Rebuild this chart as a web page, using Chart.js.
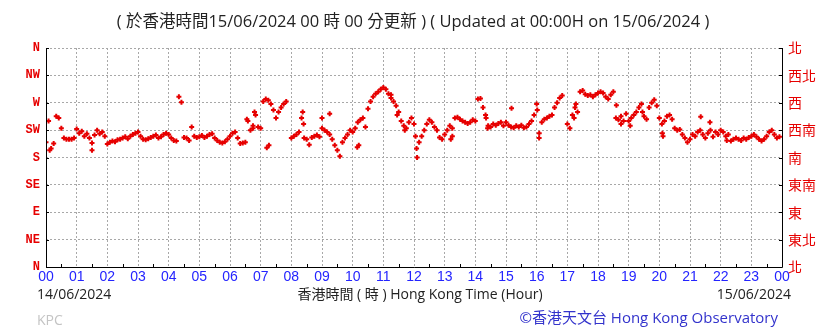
<!DOCTYPE html>
<html>
<head>
<meta charset="utf-8">
<script src="https://cdn.jsdelivr.net/npm/chart.js@4/dist/chart.umd.min.js"></script>
<style>
  body { margin: 0; background: #fff; }
  canvas { display: block; }
</style>
</head>
<body>
<canvas id="windChart" width="838" height="331"></canvas>
<script>
// wind direction (degrees), one reading every 5 minutes, 00:00 -> 23:55
const dirs = [
  205, 240, 195, 203, 248, 245, 228, 212, 210, 210, 210, 212, // 00
  227, 220, 223, 215, 219, 212, 204, 217, 225, 219, 222, 215, // 01
  202, 205, 207, 206, 209, 210, 212, 214, 211, 215, 218, 220, // 02
  222, 215, 210, 209, 211, 213, 215, 217, 212, 214, 218, 220, // 03
  218, 212, 208, 207, 280, 271, 213, 212, 208, 230, 215, 213, // 04
  214, 216, 213, 215, 218, 219, 212, 208, 205, 204, 206, 210, // 05
  215, 220, 222, 212, 203, 204, 205, 240, 225, 228, 250, 230, // 06
  228, 272, 276, 274, 268, 258, 245, 255, 262, 268, 272, null, // 07
  212, 215, 218, 222, 245, 212, 210, 201, 213, 215, 217, 214, // 08
  228, 225, 222, 218, 210, 200, 192, 182, 205, 212, 218, 225, // 09
  222, 228, 238, 242, 245, 230, 260, 272, 280, 285, 288, 292, // 10
  295, 292, 285, 278, 272, 265, 255, 240, 232, 228, 238, 245, // 11
  235, 195, 205, 215, 225, 235, 242, 238, 230, 225, 213, 210, // 12
  218, 225, 232, 228, 245, 246, 243, 240, 238, 236, 238, 242, // 13
  240, 276, 277, 262, 250, 232, 230, 235, 233, 236, 238, 232, // 14
  238, 233, 230, 229, 232, 230, 233, 229, 230, 235, 240, 250, // 15
  268, 220, 238, 243, 245, 248, 250, 262, 270, 278, 282, null, // 16
  235, 228, 250, 262, 255, 288, 290, 284, 282, 283, 280, 283, // 17
  286, 288, 286, 280, 276, 283, 288, 245, 242, 248, 240, 252, // 18
  240, 245, 250, 255, 262, 268, 248, 243, 262, 270, 275, 265, // 19
  245, 235, 240, 248, 250, 243, 228, 225, 226, 218, 212, 205, // 20
  210, 218, 215, 222, 225, 218, 212, 220, 225, 214, 222, 218, // 21
  225, 222, 215, 218, 207, 210, 212, 210, 208, 212, 210, 213, // 22
  215, 218, 214, 210, 207, 210, 215, 222, 225, 218, 212, 214  // 23
];

// scattered readings (hour, degrees)
const extraHours = [0.12, 1.5, 6.55, 6.8, 6.75, 7.2, 7.27, 8.37, 8.4, 9.0, 9.25, 10.15, 10.2,
  11.25, 11.45, 11.7, 12.1, 12.05, 13.2, 13.25, 14.35, 14.4, 15.18, 16.02, 16.08, 17.22, 17.28,
  18.6, 18.75, 19.05, 19.45, 20.1, 20.12, 21.35, 21.65, 22.2];
const extraDirs = [192, 192, 243, 255, 232, 196, 200, 255, 235, 245, 252, 197, 200,
  283, 250, 225, 180, 215, 210, 215, 245, 228, 261, 258, 212, 245, 268,
  266, 235, 232, 255, 220, 215, 247, 238, 208];

const hourLabels = ["00", "01", "02", "03", "04", "05", "06", "07", "08", "09", "10", "11",
  "12", "13", "14", "15", "16", "17", "18", "19", "20", "21", "22", "23", "00"];
const leftLabels = ["N", "NE", "E", "SE", "S", "SW", "W", "NW", "N"];
const rightLabels = ["北", "東北", "東", "東南", "南", "西南", "西", "西北", "北"];

const RED = "#e60000";
const mainPoints = dirs.map((d, i) => ({x: i * 5 / 60, y: d}));
const extraPoints = extraHours.map((h, i) => ({x: h, y: extraDirs[i]}));

const frame = {
  id: "frame",
  afterDraw(chart) {
    const {ctx, chartArea: a} = chart;
    const x = chart.scales.x;
    const y = chart.scales.y;
    ctx.save();
    ctx.strokeStyle = "#000";
    ctx.lineWidth = 1;
    ctx.beginPath();
    ctx.moveTo(a.left + 0.5, a.top);
    ctx.lineTo(a.left + 0.5, a.bottom + 0.5);
    ctx.lineTo(a.right + 0.5, a.bottom + 0.5);
    ctx.lineTo(a.right + 0.5, a.top);
    // half-hour ticks on the time axis
    for (let h = 0.5; h < 24; h += 1) {
      const px = Math.round(x.getPixelForValue(h)) + 0.5;
      ctx.moveTo(px, a.bottom);
      ctx.lineTo(px, a.bottom - 3);
    }
    // small ticks on the direction axes
    for (let d = 0; d <= 360; d += 45) {
      const py = Math.round(y.getPixelForValue(d)) + 0.5;
      ctx.moveTo(a.left, py);
      ctx.lineTo(a.left + 3, py);
      ctx.moveTo(a.right, py);
      ctx.lineTo(a.right - 3, py);
    }
    ctx.stroke();

    ctx.textBaseline = "middle";
    ctx.fillStyle = "#222";
    ctx.font = "16.5px 'Open Sans', 'Noto Sans CJK TC'";
    ctx.textAlign = "center";
    ctx.fillText("( 於香港時間15/06/2024 00 時 00 分更新 ) ( Updated at 00:00H on 15/06/2024 )", 413, 22);

    ctx.font = "14px 'Open Sans', 'Noto Sans CJK TC'";
    ctx.textAlign = "left";
    ctx.fillText("14/06/2024", 37, 295);
    ctx.textAlign = "center";
    ctx.fillText("香港時間 ( 時 ) Hong Kong Time (Hour)", 420, 295);
    ctx.textAlign = "right";
    ctx.fillText("15/06/2024", 791, 295);

    ctx.textAlign = "left";
    ctx.fillStyle = "#c4c4c4";
    ctx.fillText("KPC", 37, 321);
    ctx.fillStyle = "#3333cc";
    ctx.font = "15px 'Open Sans', 'Noto Sans CJK TC'";
    ctx.textAlign = "right";
    ctx.fillText("©香港天文台 Hong Kong Observatory", 778, 319);
    ctx.restore();
  }
};

new Chart(document.getElementById("windChart"), {
  type: "scatter",
  data: {
    datasets: [
      {data: mainPoints},
      {data: extraPoints}
    ].map((ds) => ({
      ...ds,
      pointStyle: "cross",
      pointRadius: 2.5,
      pointBorderWidth: 2,
      borderColor: RED,
      backgroundColor: RED,
      showLine: false
    }))
  },
  options: {
    responsive: false,
    animation: false,
    layout: {padding: {top: 48, bottom: 44, left: 0, right: 0}},
    plugins: {legend: {display: false}, tooltip: {enabled: false}},
    scales: {
      x: {
        type: "linear",
        min: 0,
        max: 24,
        afterFit: (s) => { s.height = 20; },
        afterBuildTicks: (s) => { s.ticks = hourLabels.map((_, i) => ({value: i})); },
        ticks: {
          autoSkip: false,
          maxRotation: 0,
          padding: 2,
          color: "#2424ff",
          font: {family: "'Liberation Sans'", size: 14},
          callback: (v) => hourLabels[v]
        },
        grid: {color: "#a8a8a8", drawTicks: false},
        border: {display: false, dash: [2, 2]}
      },
      y: {
        position: "left",
        min: 0,
        max: 360,
        afterFit: (s) => { s.width = 46; },
        afterBuildTicks: (s) => { s.ticks = leftLabels.map((_, i) => ({value: i * 45})); },
        ticks: {
          padding: 6,
          color: RED,
          font: {family: "'Liberation Mono'", size: 12, weight: "bold"},
          callback: (v) => leftLabels[v / 45]
        },
        grid: {color: "#a8a8a8", drawTicks: false},
        border: {display: false, dash: [2, 2]}
      },
      y2: {
        position: "right",
        min: 0,
        max: 360,
        afterFit: (s) => { s.width = 56; },
        afterBuildTicks: (s) => { s.ticks = rightLabels.map((_, i) => ({value: i * 45})); },
        ticks: {
          padding: 6,
          color: RED,
          font: {family: "'Noto Sans CJK TC'", size: 14},
          callback: (v) => rightLabels[v / 45]
        },
        grid: {display: false, drawTicks: false},
        border: {display: false}
      }
    }
  },
  plugins: [frame]
});
</script>
</body>
</html>
